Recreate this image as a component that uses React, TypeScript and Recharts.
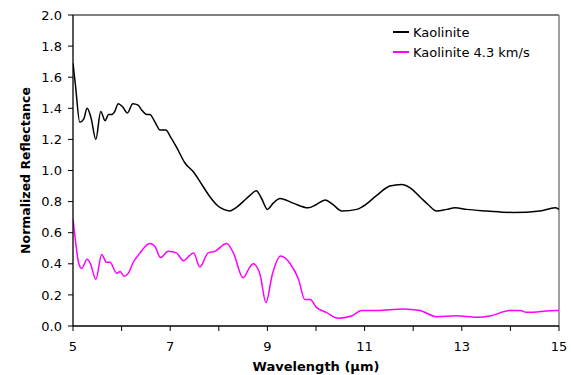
import React from 'react';
import { LineChart, Line, XAxis, YAxis, ReferenceLine } from 'recharts';

const kaoliniteWavelength = [5.0, 5.05, 5.14, 5.22, 5.29, 5.37, 5.47, 5.57, 5.66, 5.73, 5.8, 5.86, 5.93, 6.02, 6.12, 6.23, 6.34, 6.41, 6.52, 6.58, 6.69, 6.79, 6.91, 7.0, 7.13, 7.3, 7.48, 7.65, 7.82, 7.99, 8.1, 8.23, 8.35, 8.5, 8.64, 8.77, 8.88, 9.0, 9.12, 9.26, 9.53, 9.84, 10.0, 10.19, 10.35, 10.53, 10.84, 10.97, 11.25, 11.52, 11.76, 11.93, 12.14, 12.31, 12.48, 12.69, 12.86, 13.1, 13.51, 14.06, 14.61, 14.92, 15.0];
const kaoliniteValues = [1.69, 1.55, 1.31, 1.33, 1.4, 1.34, 1.2, 1.38, 1.32, 1.36, 1.36, 1.38, 1.43, 1.41, 1.37, 1.43, 1.42, 1.39, 1.36, 1.36, 1.31, 1.26, 1.26, 1.22, 1.15, 1.05, 0.99, 0.91, 0.83, 0.77, 0.75, 0.74, 0.76, 0.8, 0.84, 0.87, 0.82, 0.75, 0.79, 0.82, 0.79, 0.76, 0.78, 0.81, 0.78, 0.74, 0.75, 0.77, 0.84, 0.9, 0.91, 0.89, 0.83, 0.78, 0.74, 0.75, 0.76, 0.75, 0.74, 0.73, 0.74, 0.76, 0.75];

const shockedWavelength = [5.0, 5.05, 5.12, 5.18, 5.29, 5.36, 5.47, 5.59, 5.69, 5.76, 5.9, 5.97, 6.05, 6.14, 6.24, 6.38, 6.48, 6.58, 6.69, 6.8, 6.96, 7.13, 7.27, 7.48, 7.61, 7.78, 7.92, 8.16, 8.3, 8.5, 8.64, 8.71, 8.85, 8.97, 9.1, 9.27, 9.47, 9.64, 9.77, 9.88, 10.01, 10.22, 10.46, 10.73, 10.94, 11.25, 11.8, 12.14, 12.48, 12.89, 13.31, 13.58, 13.99, 14.2, 14.33, 14.95, 15.0];
const shockedValues = [0.69, 0.55, 0.4, 0.37, 0.43, 0.4, 0.3, 0.46, 0.41, 0.41, 0.34, 0.35, 0.32, 0.34, 0.41, 0.47, 0.51, 0.53, 0.51, 0.44, 0.48, 0.47, 0.42, 0.47, 0.38, 0.47, 0.48, 0.53, 0.47, 0.31, 0.38, 0.4, 0.33, 0.15, 0.33, 0.45, 0.4, 0.3, 0.17, 0.17, 0.12, 0.086, 0.05, 0.064, 0.1, 0.1, 0.11, 0.1, 0.06, 0.066, 0.056, 0.064, 0.1, 0.1, 0.088, 0.1, 0.1];

const xTicks = [5, 6, 7, 8, 9, 10, 11, 12, 13, 14, 15];
const xTickLabels = ['5', '', '7', '', '9', '', '11', '', '13', '', '15'];
const yTicks = [0, 0.2, 0.4, 0.6, 0.8, 1.0, 1.2, 1.4, 1.6, 1.8, 2.0];

const seriesNames = ['Kaolinite', 'Kaolinite 4.3 km/s'];
const seriesColors = ['#000000', '#FF00FF'];

const kaoliniteData = kaoliniteWavelength.map((wl, i) => ({ wl, v: kaoliniteValues[i] }));
const shockedData = shockedWavelength.map((wl, i) => ({ wl, v: shockedValues[i] }));

const FONT = '"DejaVu Sans", sans-serif';

const LegendBox = () => (
  <div style={{ position: 'absolute', left: 393, top: 22, fontFamily: FONT, fontSize: 13, color: '#000' }}>
    {seriesNames.map((name, i) => (
      <div key={name} style={{ display: 'flex', alignItems: 'center', height: 20, whiteSpace: 'nowrap' }}>
        <div style={{ width: 16, height: 2, background: seriesColors[i], marginRight: 4 }} />
        <span>{name}</span>
      </div>
    ))}
  </div>
);

const YLabel = (props: any) => {
  const vb = props.viewBox || {};
  const cx = 25;
  const cy = vb.y + vb.height / 2;
  return (
    <text
      x={cx}
      y={cy}
      transform={`rotate(-90 ${cx} ${cy})`}
      textAnchor="middle"
      dominantBaseline="central"
      fontFamily={FONT}
      fontWeight="bold"
      fontSize={12.5}
      fill="#000"
    >
      Normalized Reflectance
    </text>
  );
};

const XLabel = (props: any) => {
  const vb = props.viewBox || {};
  const cx = vb.x + vb.width / 2;
  return (
    <text x={cx} y={371} textAnchor="middle" fontFamily={FONT} fontWeight="bold" fontSize={13} fill="#000">
      Wavelength (µm)
    </text>
  );
};

export default function App() {
  return (
    <div style={{ position: 'absolute', left: 0, top: 0, width: 571, height: 375, background: '#fff' }}>
      <LineChart width={571} height={375} margin={{ top: 15, right: 12, left: 0, bottom: 4 }}>
        <XAxis
          type="number"
          dataKey="wl"
          domain={[5, 15]}
          ticks={xTicks}
          tickFormatter={(v: number) => xTickLabels[xTicks.indexOf(v)] ?? ''}
          height={45}
          tickSize={5}
          tickMargin={11}
          axisLine={{ stroke: '#000', strokeWidth: 1.3 }}
          tickLine={{ stroke: '#000' }}
          tick={{ fill: '#000', fontSize: 13, fontFamily: FONT }}
          allowDataOverflow
          label={<XLabel />}
        />
        <YAxis
          type="number"
          domain={[0, 2]}
          ticks={yTicks}
          tickFormatter={(v: number) => v.toFixed(1)}
          width={73}
          tickSize={5}
          tickMargin={6}
          axisLine={{ stroke: '#000', strokeWidth: 1.3 }}
          tickLine={{ stroke: '#000' }}
          tick={{ fill: '#000', fontSize: 13, fontFamily: FONT }}
          label={<YLabel />}
        />
        <ReferenceLine y={2} stroke="#808080" strokeWidth={1.8} />
        <ReferenceLine x={15} stroke="#808080" strokeWidth={1.5} />
        <Line
          data={kaoliniteData}
          dataKey="v"
          name={seriesNames[0]}
          type="monotone"
          stroke={seriesColors[0]}
          strokeWidth={1.5}
          dot={false}
          isAnimationActive={false}
        />
        <Line
          data={shockedData}
          dataKey="v"
          name={seriesNames[1]}
          type="monotone"
          stroke={seriesColors[1]}
          strokeWidth={1.5}
          dot={false}
          isAnimationActive={false}
        />
      </LineChart>
      <LegendBox />
    </div>
  );
}
